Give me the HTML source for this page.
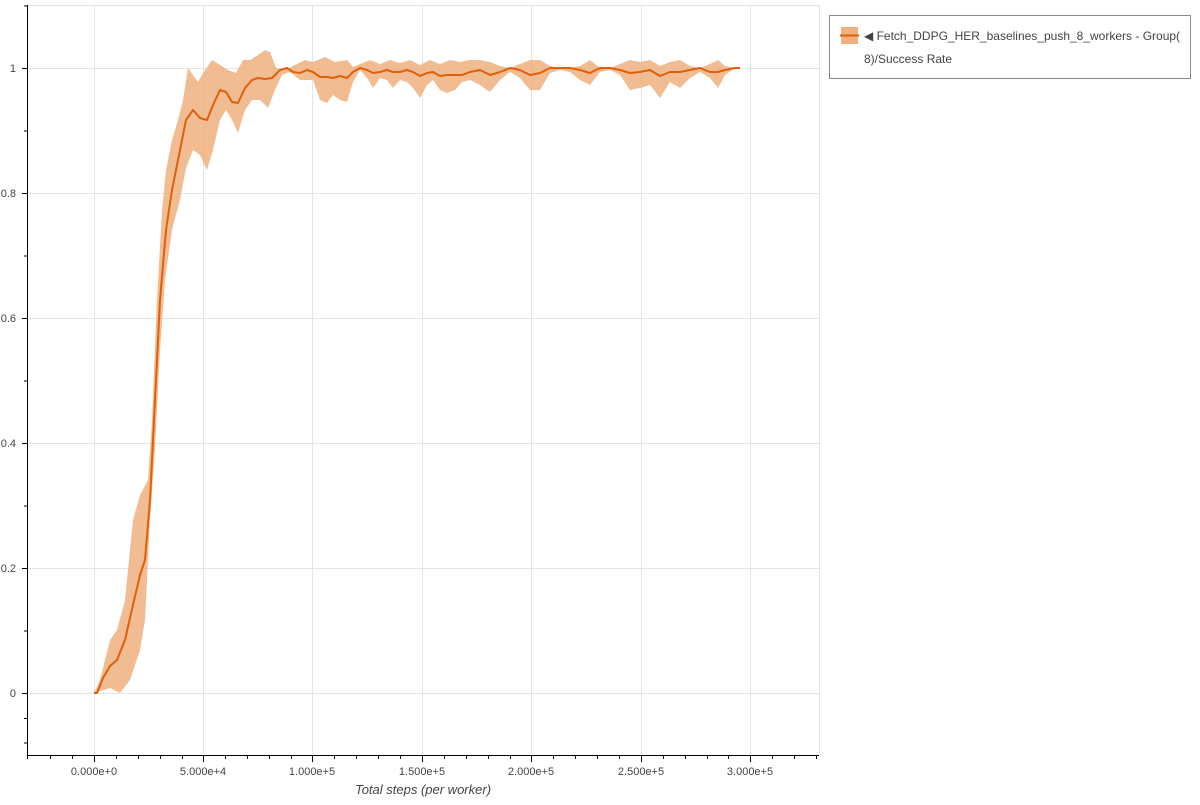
<!DOCTYPE html>
<html><head><meta charset="utf-8"><style>
body{margin:0;background:#fff;font-family:"Liberation Sans",sans-serif;}
svg text{font-family:"Liberation Sans",sans-serif;}
</style></head><body>
<svg width="1200" height="800" xmlns="http://www.w3.org/2000/svg">
<g stroke="#e5e5e5" stroke-width="1">
<line x1="94.5" y1="5" x2="94.5" y2="755"/><line x1="203.5" y1="5" x2="203.5" y2="755"/>
<line x1="312.5" y1="5" x2="312.5" y2="755"/><line x1="422.5" y1="5" x2="422.5" y2="755"/>
<line x1="531.5" y1="5" x2="531.5" y2="755"/><line x1="641.5" y1="5" x2="641.5" y2="755"/>
<line x1="750.5" y1="5" x2="750.5" y2="755"/><line x1="819.5" y1="5" x2="819.5" y2="755"/>
<line x1="27" y1="68.5" x2="819" y2="68.5"/><line x1="27" y1="193.5" x2="819" y2="193.5"/>
<line x1="27" y1="318.5" x2="819" y2="318.5"/><line x1="27" y1="443.5" x2="819" y2="443.5"/>
<line x1="27" y1="568.5" x2="819" y2="568.5"/><line x1="27" y1="693.5" x2="819" y2="693.5"/>
<line x1="27" y1="5.5" x2="819" y2="5.5"/>
</g>
<polygon fill="#f0b080" fill-opacity="0.85" points="94,693 100,680 110,640 117,630 125,600 133,520 140,495 148,480 152,420 157,300 162,210 166,170 172,140 178,120 183,100 188,68 193,75 198,82 205,70 212,60 220,65 228,70 236,73 243,60 250,60 258,55 265,50 270,52 276,68 285,70 295,65 305,60 313,62 325,57 335,62 347,60 353,67 360,64 370,60 380,64 390,60 400,63 410,60 420,65 430,60 440,64 450,60 460,62 470,60 480,60 490,62 500,66 510,68 520,64 530,60 540,60 550,66 560,68 570,68 580,66 590,60 600,68 610,68 620,64 630,60 640,62 650,60 660,66 670,62 680,60 690,66 700,68 710,64 718,60 725,66 735,68 740,68 740,68 735,68 725,75 718,88 710,78 700,72 690,78 680,88 670,82 660,98 650,85 640,88 630,90 620,75 610,70 600,72 590,85 580,80 570,72 560,70 550,73 540,90 530,90 520,78 510,72 500,80 490,92 480,85 470,80 462,82 455,90 447,93 440,90 433,80 427,85 420,98 413,88 407,82 400,80 393,88 387,80 380,78 373,88 367,78 360,70 353,82 347,102 340,100 333,95 327,103 320,100 313,80 300,80 290,72 282,75 275,90 268,108 260,100 252,100 245,110 238,133 232,120 226,110 220,120 213,150 207,170 200,155 193,150 186,168 180,200 172,230 165,280 160,350 155,450 150,520 145,620 140,650 130,680 120,693 110,688"/>
<polyline fill="none" stroke="#e0600a" stroke-width="2" stroke-linejoin="round" points="94,693 97,693 103,678 110,666 117,660 125,640 133,605 140,575 145,560 150,500 155,400 160,300 166,230 172,190 180,150 186,120 193,110 200,118 207,120 213,105 220,90 226,92 232,102 238,103 245,88 252,80 258,78 265,79 272,78 280,70 287,68 293,72 300,73 307,70 313,72 320,77 327,77 333,78 340,76 347,78 353,72 360,68 367,70 373,73 380,72 387,70 393,72 400,72 407,70 413,72 420,76 427,73 433,72 440,76 447,75 455,75 462,75 470,72 480,70 490,75 500,72 510,68 520,70 530,75 540,73 550,68 560,68 570,68 580,70 590,73 600,68 610,68 620,70 630,73 640,72 650,70 660,76 670,72 680,72 690,70 700,68 710,72 718,72 725,70 735,68 740,68"/>
<g stroke="#000" stroke-width="1">
<line x1="27.5" y1="5" x2="27.5" y2="756"/><line x1="27" y1="755.5" x2="819" y2="755.5"/>
<line x1="22" y1="68.5" x2="27" y2="68.5"/><line x1="22" y1="193.5" x2="27" y2="193.5"/>
<line x1="22" y1="318.5" x2="27" y2="318.5"/><line x1="22" y1="443.5" x2="27" y2="443.5"/>
<line x1="22" y1="568.5" x2="27" y2="568.5"/><line x1="22" y1="693.5" x2="27" y2="693.5"/>
<line x1="24" y1="6" x2="27" y2="6"/><line x1="24" y1="131" x2="27" y2="131"/><line x1="24" y1="256" x2="27" y2="256"/>
<line x1="24" y1="381" x2="27" y2="381"/><line x1="24" y1="506" x2="27" y2="506"/><line x1="24" y1="631" x2="27" y2="631"/>
<line x1="24" y1="718.5" x2="27" y2="718.5"/><line x1="24" y1="743" x2="27" y2="743"/>
<line x1="94.5" y1="755" x2="94.5" y2="762"/><line x1="203.5" y1="755" x2="203.5" y2="762"/>
<line x1="312.5" y1="755" x2="312.5" y2="762"/><line x1="422.5" y1="755" x2="422.5" y2="762"/>
<line x1="531.5" y1="755" x2="531.5" y2="762"/><line x1="641.5" y1="755" x2="641.5" y2="762"/>
<line x1="750.5" y1="755" x2="750.5" y2="762"/>
</g>
<g stroke="#000" stroke-width="1" id="minor">
<path d="M27.5 755v4M50.5 755v4M72.5 755v4M116.5 755v4M138.5 755v4M160.5 755v4M182.5 755v4M225.5 755v4M247.5 755v4M269.5 755v4M291.5 755v4M334.5 755v4M356.5 755v4M378.5 755v4M400.5 755v4M444.5 755v4M466.5 755v4M488.5 755v4M510.5 755v4M553.5 755v4M575.5 755v4M597.5 755v4M619.5 755v4M663.5 755v4M685.5 755v4M707.5 755v4M728.5 755v4M772.5 755v4M794.5 755v4M816.5 755v4"/>
</g>
<g font-size="11" fill="#444" text-anchor="end">
<text x="16" y="72">1</text><text x="16" y="197">0.8</text><text x="16" y="322">0.6</text>
<text x="16" y="447">0.4</text><text x="16" y="572">0.2</text><text x="16" y="697">0</text>
</g>
<g font-size="11" fill="#444" text-anchor="middle">
<text x="94" y="775">0.000e+0</text><text x="203" y="775">5.000e+4</text><text x="312" y="775">1.000e+5</text>
<text x="422" y="775">1.500e+5</text><text x="531" y="775">2.000e+5</text><text x="641" y="775">2.500e+5</text>
<text x="750" y="775">3.000e+5</text>
</g>
<text x="423" y="794" font-size="13" font-style="italic" fill="#444" text-anchor="middle">Total steps (per worker)</text>
<rect x="829.5" y="15.5" width="361" height="63" fill="#fff" stroke="#888"/>
<rect x="841" y="27" width="17" height="17" fill="#f0b080"/>
<line x1="840" y1="35.5" x2="859" y2="35.5" stroke="#e0600a" stroke-width="2"/>
<text x="864" y="40" font-size="12" fill="#444">◀ Fetch_DDPG_HER_baselines_push_8_workers - Group(</text>
<text x="864" y="63" font-size="12" fill="#444">8)/Success Rate</text>
</svg>
</body></html>
